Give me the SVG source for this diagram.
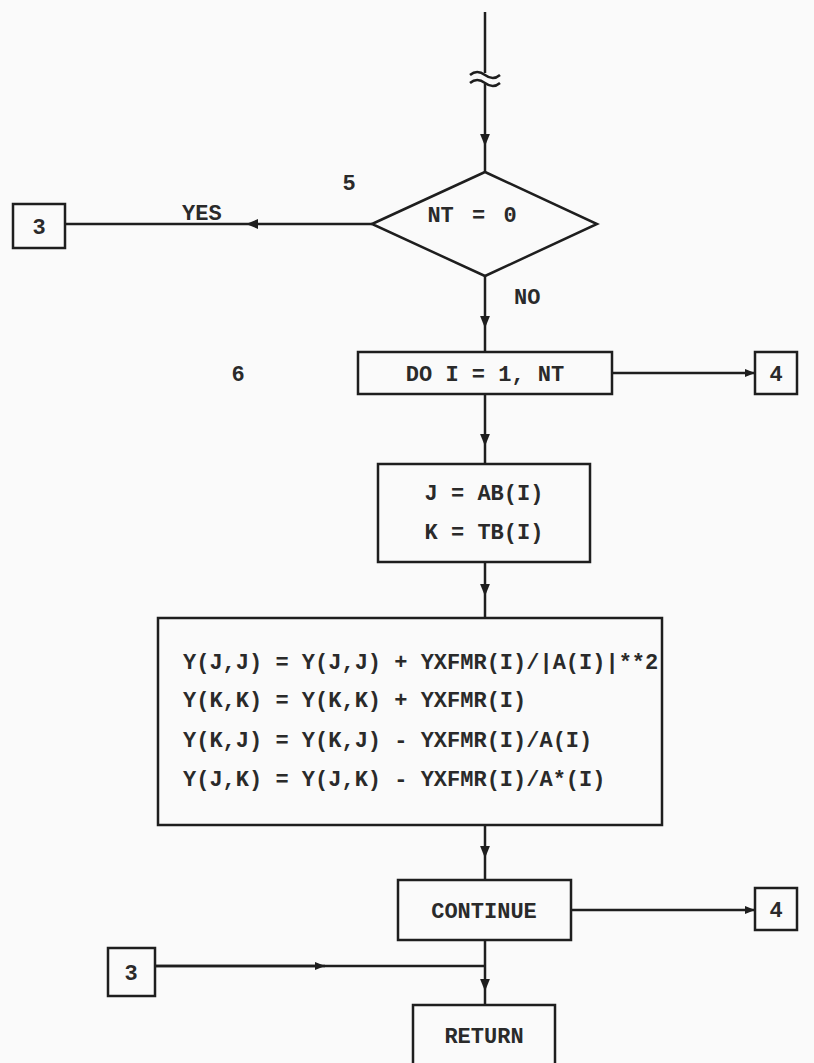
<svg xmlns="http://www.w3.org/2000/svg" width="814" height="1063" viewBox="0 0 814 1063">
<defs>
<style>
.ln{fill:none;stroke:#1e1e1e;stroke-width:2.5;}
.bx{fill:none;stroke:#1e1e1e;stroke-width:2.5;}
.t{font-family:"Liberation Mono","DejaVu Sans Mono",monospace;font-size:22px;font-weight:bold;fill:#2a2a2a;}
.tm{text-anchor:middle;}
</style>
<marker id="ar" viewBox="0 0 10 10" refX="5" refY="5" markerWidth="5" markerHeight="5" markerUnits="strokeWidth" orient="auto">
<path d="M0,1 L10,5 L0,9 z" fill="#1e1e1e"/>
</marker>
<marker id="ae" viewBox="0 0 10 10" refX="10" refY="5" markerWidth="4" markerHeight="4" markerUnits="strokeWidth" orient="auto">
<path d="M0,1 L10,5 L0,9 z" fill="#1e1e1e"/>
</marker>
</defs>
<rect width="814" height="1063" fill="#fafafa"/>
<g id="connectors">
<path class="ln" d="M485,12 L485,73"/>
<path class="ln" d="M485,84 L485,140 L485,172" marker-mid="url(#ar)"/>
<path class="ln" d="M470,75 q7,-6 15,0 t15,0"/>
<path class="ln" d="M470,83 q7,-6 15,0 t15,0"/>
<path class="ln" d="M372,224 L252,224 L65,224" marker-mid="url(#ar)"/>
<path class="ln" d="M485,276 L485,322 L485,352" marker-mid="url(#ar)"/>
<path class="ln" d="M612,373 L755,373" marker-end="url(#ae)"/>
<path class="ln" d="M485,394 L485,440 L485,464" marker-mid="url(#ar)"/>
<path class="ln" d="M485,562 L485,590 L485,618" marker-mid="url(#ar)"/>
<path class="ln" d="M485,825 L485,852 L485,880" marker-mid="url(#ar)"/>
<path class="ln" d="M571,910 L755,910" marker-end="url(#ae)"/>
<path class="ln" d="M155,966 L325,966 L485,966"/>
<path class="ln" d="M155,966 L325,966" marker-end="url(#ae)"/>
<path class="ln" d="M485,940 L485,985 L485,1005" marker-mid="url(#ar)"/>
<text class="t" x="182" y="220">YES</text>
<text class="t" x="514" y="304">NO</text>
</g>
<g id="n_top3">
<rect class="bx" x="13" y="204" width="52" height="44"/>
<text class="t tm" x="39" y="234">3</text>
</g>
<g id="n_dec">
<polygon class="bx" points="372,224 485,172 597,224 485,276"/>
<text class="t tm" x="472" y="222" style="word-spacing:5px">NT = 0</text>
<text class="t tm" x="349" y="190">5</text>
</g>
<g id="n_do">
<rect class="bx" x="358" y="352" width="254" height="42"/>
<text class="t tm" x="485" y="381">DO I = 1, NT</text>
<text class="t tm" x="238" y="381">6</text>
</g>
<g id="n_do4">
<rect class="bx" x="755" y="352" width="42" height="42"/>
<text class="t tm" x="776" y="381">4</text>
</g>
<g id="n_jk">
<rect class="bx" x="378" y="464" width="212" height="98"/>
<text class="t tm" x="484" y="500">J = AB(I)</text>
<text class="t tm" x="484" y="539">K = TB(I)</text>
</g>
<g id="n_calc">
<rect class="bx" x="158" y="618" width="504" height="207"/>
<text class="t" x="183" y="669">Y(J,J) = Y(J,J) + YXFMR(I)/|A(I)|**2</text>
<text class="t" x="183" y="707">Y(K,K) = Y(K,K) + YXFMR(I)</text>
<text class="t" x="183" y="747">Y(K,J) = Y(K,J) - YXFMR(I)/A(I)</text>
<text class="t" x="183" y="786">Y(J,K) = Y(J,K) - YXFMR(I)/A*(I)</text>
</g>
<g id="n_cont">
<rect class="bx" x="398" y="880" width="173" height="60"/>
<text class="t tm" x="484" y="918">CONTINUE</text>
</g>
<g id="n_cont4">
<rect class="bx" x="755" y="888" width="42" height="42"/>
<text class="t tm" x="776" y="917">4</text>
</g>
<g id="n_bot3">
<rect class="bx" x="108" y="948" width="47" height="48"/>
<text class="t tm" x="131" y="980">3</text>
</g>
<g id="n_ret">
<rect class="bx" x="413" y="1005" width="142" height="62"/>
<text class="t tm" x="484" y="1043">RETURN</text>
</g>
</svg>
